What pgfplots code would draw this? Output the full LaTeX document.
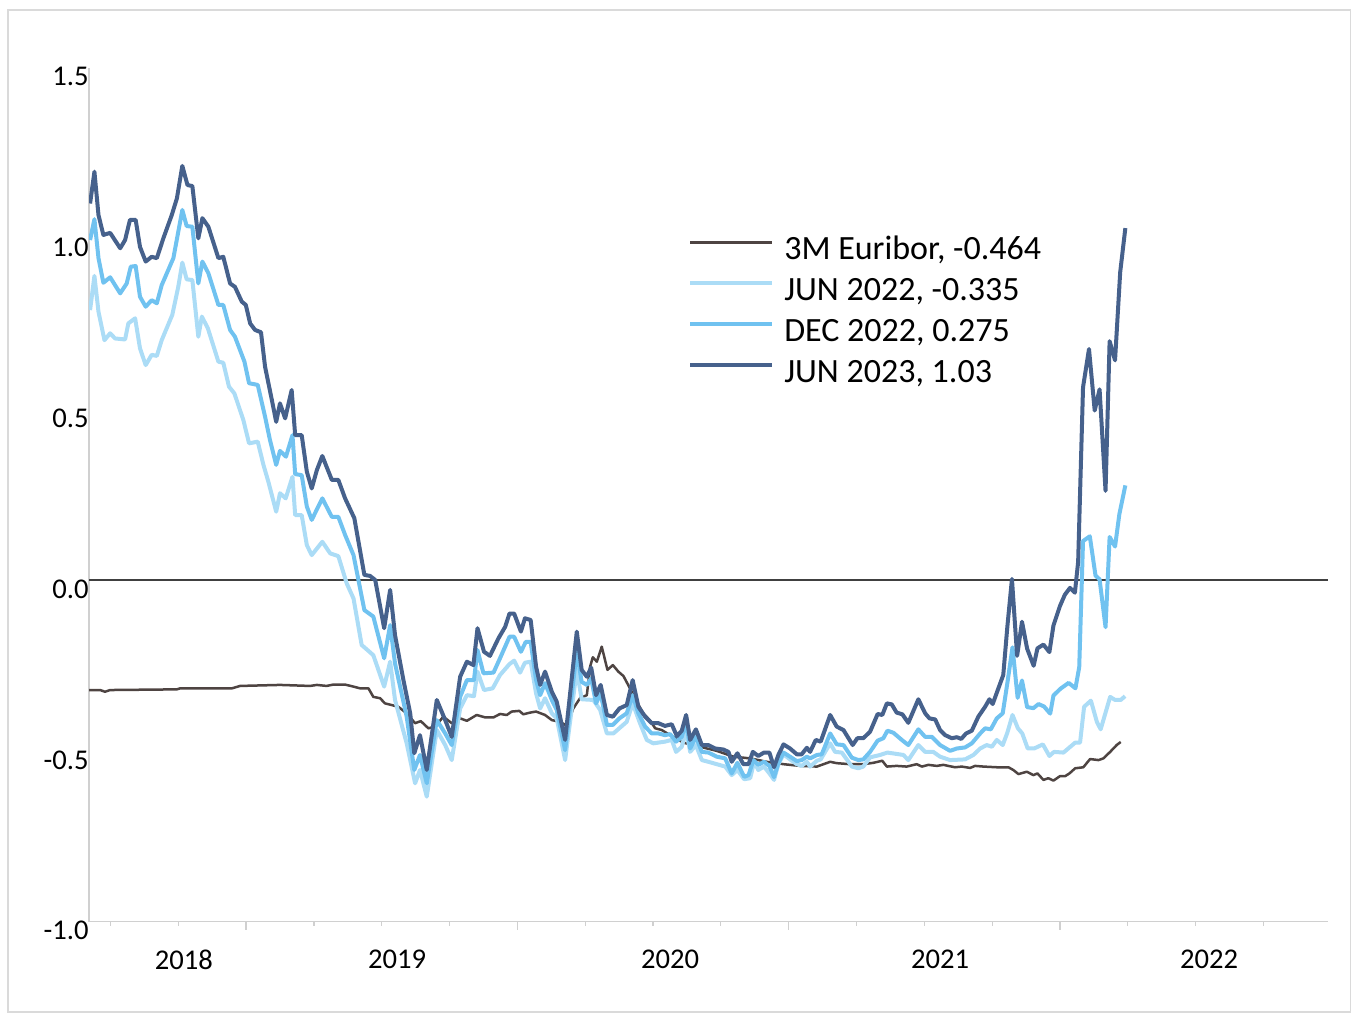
\documentclass[border=0pt]{standalone}
\usepackage{fontspec}
\setmainfont{Carlito}
\usepackage{pgfplots}
\pgfplotsset{compat=1.18}
\definecolor{axisgray}{HTML}{D0D0D0}
\definecolor{framegray}{HTML}{DADADA}
\definecolor{eurib}{HTML}{4E4442}
\definecolor{junA}{HTML}{ABDCF6}
\definecolor{decB}{HTML}{70C2F0}
\definecolor{junC}{HTML}{46618C}
\definecolor{zeroline}{HTML}{404040}
\begin{document}
\begin{tikzpicture}
\path[use as bounding box] (0pt,0pt) rectangle (675.5pt,507pt);
\draw[framegray, line width=0.6pt] (4pt,1pt) rectangle (675.2pt,502pt);
\begin{axis}[
  at={(44.5pt,46.15pt)}, anchor=south west,
  scale only axis, width=619.5pt, height=427.1pt,
  xmin=2018.421, xmax=2022.988, ymin=-1, ymax=1.5,
  axis x line*=bottom, axis y line*=left,
  axis line style={draw=axisgray, line width=0.75pt, -},
  tick align=outside, major tick length=4pt, minor tick length=2pt,
  tick style={draw=axisgray, line width=0.6pt},
  xtick={2019,2020,2021,2022}, xticklabels={,,,},
  minor xtick={2018.5,2018.75,2019.25,2019.5,2019.75,2020.25,2020.5,2020.75,2021.25,2021.5,2021.75,2022.25,2022.5,2022.75},
  extra x ticks={2018.771,2019.557,2020.563,2021.558,2022.550},
  extra x tick labels={2018,2019,2020,2021,2022},
  extra x tick style={major tick length=0pt, xticklabel style={anchor=center, inner sep=0pt, yshift=-19pt}},
  ytick=\empty,
  minor ytick={-0.9,-0.8,-0.7,-0.6,-0.4,-0.3,-0.2,-0.1,0.1,0.2,0.3,0.4,0.6,0.7,0.8,0.9,1.1,1.2,1.3,1.4},
  extra y ticks={-1,-0.5,0,0.5,1,1.5},
  extra y tick labels={-1.0,-0.5,0.0,0.5,1.0,1.5},
  extra y tick style={major tick length=0pt, yticklabel style={anchor=east, inner sep=0pt, yshift=-4.5pt}},
  tick label style={font=\fontsize{14.3}{17}\selectfont, text=black},
  legend style={at={(0.4785,0.8086)}, anchor=north west, draw=none, fill=none,
    font=\fontsize{17}{20}\selectfont, row sep=5.5pt, column sep=5pt,
    nodes={inner sep=0pt, text height=12pt, text depth=3pt}},
  legend cell align=left,
  legend image code/.code={\draw[#1] (0pt,4pt) -- (41pt,4pt);},
  line join=round,
]
\addplot[zeroline, line width=1pt, forget plot] coordinates {(2018.421,0) (2022.988,0)};

\addplot[eurib, line width=1.25pt] coordinates {
(2018.421,-0.322) (2018.462,-0.322) (2018.480,-0.327) (2018.499,-0.322) (2018.745,-0.320) (2018.757,-0.317) (2018.948,-0.317) (2018.978,-0.310) (2019.125,-0.307) (2019.236,-0.310) (2019.261,-0.307) (2019.297,-0.310) (2019.322,-0.306) (2019.365,-0.306) (2019.396,-0.312) (2019.420,-0.317) (2019.451,-0.317) (2019.469,-0.342) (2019.494,-0.346) (2019.512,-0.361) (2019.537,-0.366) (2019.561,-0.371) (2019.592,-0.390) (2019.623,-0.419) (2019.644,-0.413) (2019.672,-0.434) (2019.697,-0.429) (2019.727,-0.400) (2019.758,-0.419) (2019.789,-0.405) (2019.814,-0.412) (2019.850,-0.395) (2019.881,-0.402) (2019.912,-0.402) (2019.936,-0.392) (2019.961,-0.395) (2019.979,-0.385) (2020.007,-0.383) (2020.022,-0.393) (2020.047,-0.388) (2020.069,-0.385) (2020.102,-0.395) (2020.127,-0.410) (2020.157,-0.415) (2020.183,-0.427) (2020.206,-0.376) (2020.231,-0.346) (2020.256,-0.337) (2020.268,-0.254) (2020.278,-0.226) (2020.293,-0.239) (2020.311,-0.195) (2020.332,-0.263) (2020.352,-0.249) (2020.372,-0.268) (2020.391,-0.281) (2020.415,-0.317) (2020.440,-0.356) (2020.464,-0.390) (2020.489,-0.411) (2020.508,-0.434) (2020.532,-0.439) (2020.563,-0.454) (2020.612,-0.476) (2020.673,-0.488) (2020.735,-0.500) (2020.796,-0.517) (2020.858,-0.522) (2020.919,-0.532) (2020.981,-0.539) (2021.042,-0.544) (2021.104,-0.546) (2021.153,-0.532) (2021.177,-0.536) (2021.226,-0.539) (2021.275,-0.539) (2021.312,-0.535) (2021.345,-0.529) (2021.362,-0.546) (2021.398,-0.544) (2021.435,-0.546) (2021.472,-0.539) (2021.491,-0.546) (2021.515,-0.541) (2021.546,-0.544) (2021.570,-0.541) (2021.613,-0.548) (2021.638,-0.546) (2021.669,-0.550) (2021.687,-0.544) (2021.718,-0.546) (2021.767,-0.548) (2021.810,-0.548) (2021.828,-0.556) (2021.847,-0.568) (2021.878,-0.561) (2021.902,-0.571) (2021.917,-0.566) (2021.939,-0.585) (2021.957,-0.580) (2021.976,-0.587) (2022.000,-0.574) (2022.019,-0.574) (2022.035,-0.566) (2022.056,-0.551) (2022.086,-0.548) (2022.111,-0.524) (2022.142,-0.527) (2022.160,-0.522) (2022.185,-0.503) (2022.209,-0.483) (2022.224,-0.474)
};
\addlegendentry{3M Euribor, -0.464}

\addplot[junA, line width=2pt] coordinates {
(2018.425,0.790) (2018.441,0.890) (2018.456,0.785) (2018.478,0.702) (2018.499,0.722) (2018.517,0.707) (2018.554,0.704) (2018.566,0.751) (2018.591,0.766) (2018.609,0.678) (2018.630,0.629) (2018.652,0.659) (2018.671,0.656) (2018.689,0.702) (2018.728,0.776) (2018.750,0.858) (2018.765,0.929) (2018.781,0.880) (2018.802,0.878) (2018.824,0.712) (2018.837,0.771) (2018.859,0.737) (2018.898,0.639) (2018.916,0.636) (2018.937,0.566) (2018.957,0.546) (2018.990,0.468) (2019.011,0.400) (2019.043,0.405) (2019.064,0.337) (2019.082,0.288) (2019.111,0.200) (2019.125,0.254) (2019.146,0.239) (2019.171,0.302) (2019.181,0.190) (2019.205,0.190) (2019.224,0.102) (2019.242,0.073) (2019.281,0.112) (2019.310,0.078) (2019.340,0.070) (2019.371,-0.010) (2019.396,-0.054) (2019.426,-0.190) (2019.469,-0.220) (2019.509,-0.312) (2019.531,-0.239) (2019.549,-0.351) (2019.592,-0.478) (2019.623,-0.595) (2019.641,-0.556) (2019.666,-0.634) (2019.703,-0.439) (2019.734,-0.483) (2019.758,-0.527) (2019.789,-0.376) (2019.814,-0.337) (2019.840,-0.340) (2019.853,-0.268) (2019.877,-0.322) (2019.909,-0.317) (2019.936,-0.278) (2019.971,-0.246) (2019.988,-0.236) (2020.010,-0.271) (2020.028,-0.242) (2020.049,-0.239) (2020.069,-0.332) (2020.084,-0.376) (2020.102,-0.346) (2020.127,-0.390) (2020.145,-0.405) (2020.176,-0.527) (2020.219,-0.263) (2020.237,-0.349) (2020.280,-0.351) (2020.305,-0.380) (2020.330,-0.449) (2020.354,-0.449) (2020.403,-0.415) (2020.425,-0.361) (2020.452,-0.419) (2020.477,-0.468) (2020.501,-0.478) (2020.544,-0.473) (2020.569,-0.468) (2020.585,-0.503) (2020.606,-0.488) (2020.622,-0.439) (2020.637,-0.503) (2020.658,-0.483) (2020.680,-0.527) (2020.704,-0.532) (2020.735,-0.539) (2020.766,-0.546) (2020.790,-0.571) (2020.811,-0.556) (2020.836,-0.583) (2020.858,-0.580) (2020.873,-0.532) (2020.888,-0.556) (2020.909,-0.546) (2020.929,-0.566) (2020.946,-0.585) (2020.962,-0.539) (2020.981,-0.510) (2021.005,-0.525) (2021.030,-0.539) (2021.048,-0.544) (2021.067,-0.532) (2021.079,-0.546) (2021.104,-0.529) (2021.118,-0.525) (2021.153,-0.478) (2021.171,-0.503) (2021.196,-0.505) (2021.233,-0.546) (2021.257,-0.551) (2021.275,-0.546) (2021.300,-0.519) (2021.337,-0.512) (2021.364,-0.505) (2021.398,-0.509) (2021.423,-0.512) (2021.441,-0.527) (2021.478,-0.483) (2021.503,-0.503) (2021.533,-0.503) (2021.558,-0.517) (2021.595,-0.527) (2021.650,-0.525) (2021.681,-0.512) (2021.706,-0.493) (2021.730,-0.483) (2021.749,-0.488) (2021.767,-0.468) (2021.789,-0.483) (2021.806,-0.447) (2021.825,-0.395) (2021.845,-0.434) (2021.861,-0.449) (2021.881,-0.493) (2021.905,-0.493) (2021.937,-0.481) (2021.961,-0.515) (2021.978,-0.503) (2022.013,-0.505) (2022.035,-0.490) (2022.056,-0.476) (2022.074,-0.476) (2022.089,-0.371) (2022.114,-0.353) (2022.136,-0.415) (2022.150,-0.437) (2022.185,-0.342) (2022.203,-0.351) (2022.224,-0.351) (2022.240,-0.340)
};
\addlegendentry{JUN 2022, -0.335}

\addplot[decB, line width=2pt] coordinates {
(2018.425,0.995) (2018.441,1.056) (2018.456,0.942) (2018.474,0.870) (2018.499,0.886) (2018.536,0.839) (2018.560,0.868) (2018.575,0.917) (2018.593,0.919) (2018.609,0.829) (2018.630,0.800) (2018.652,0.819) (2018.671,0.810) (2018.689,0.863) (2018.732,0.942) (2018.765,1.083) (2018.781,1.036) (2018.802,1.034) (2018.824,0.868) (2018.839,0.932) (2018.861,0.898) (2018.898,0.805) (2018.916,0.805) (2018.941,0.732) (2018.959,0.712) (2018.994,0.639) (2019.011,0.576) (2019.043,0.571) (2019.070,0.478) (2019.088,0.410) (2019.111,0.337) (2019.125,0.378) (2019.147,0.361) (2019.171,0.424) (2019.181,0.310) (2019.205,0.307) (2019.224,0.215) (2019.242,0.176) (2019.281,0.239) (2019.316,0.185) (2019.340,0.185) (2019.365,0.132) (2019.396,0.073) (2019.436,-0.088) (2019.469,-0.107) (2019.509,-0.229) (2019.531,-0.132) (2019.549,-0.244) (2019.592,-0.400) (2019.620,-0.556) (2019.641,-0.512) (2019.666,-0.595) (2019.703,-0.410) (2019.734,-0.449) (2019.758,-0.483) (2019.789,-0.342) (2019.814,-0.293) (2019.840,-0.293) (2019.853,-0.205) (2019.875,-0.273) (2019.912,-0.271) (2019.936,-0.229) (2019.971,-0.166) (2019.988,-0.166) (2020.013,-0.210) (2020.031,-0.181) (2020.049,-0.181) (2020.069,-0.293) (2020.084,-0.337) (2020.102,-0.302) (2020.127,-0.351) (2020.145,-0.380) (2020.176,-0.498) (2020.219,-0.210) (2020.237,-0.298) (2020.256,-0.307) (2020.272,-0.288) (2020.290,-0.361) (2020.307,-0.332) (2020.330,-0.424) (2020.352,-0.424) (2020.376,-0.405) (2020.403,-0.390) (2020.425,-0.337) (2020.446,-0.390) (2020.471,-0.429) (2020.495,-0.449) (2020.520,-0.449) (2020.544,-0.454) (2020.563,-0.451) (2020.585,-0.473) (2020.606,-0.459) (2020.622,-0.415) (2020.637,-0.493) (2020.658,-0.459) (2020.680,-0.503) (2020.704,-0.505) (2020.735,-0.517) (2020.766,-0.522) (2020.790,-0.566) (2020.811,-0.535) (2020.836,-0.576) (2020.852,-0.571) (2020.870,-0.527) (2020.888,-0.541) (2020.909,-0.532) (2020.929,-0.544) (2020.946,-0.577) (2020.962,-0.536) (2020.981,-0.505) (2021.005,-0.517) (2021.030,-0.530) (2021.048,-0.527) (2021.067,-0.517) (2021.079,-0.522) (2021.104,-0.512) (2021.122,-0.510) (2021.153,-0.449) (2021.177,-0.481) (2021.202,-0.483) (2021.233,-0.520) (2021.257,-0.527) (2021.275,-0.525) (2021.300,-0.503) (2021.328,-0.470) (2021.349,-0.463) (2021.364,-0.441) (2021.386,-0.447) (2021.417,-0.468) (2021.441,-0.483) (2021.478,-0.437) (2021.503,-0.459) (2021.528,-0.459) (2021.558,-0.483) (2021.595,-0.500) (2021.620,-0.493) (2021.650,-0.490) (2021.675,-0.478) (2021.706,-0.449) (2021.724,-0.434) (2021.745,-0.437) (2021.767,-0.405) (2021.789,-0.390) (2021.806,-0.302) (2021.825,-0.197) (2021.844,-0.345) (2021.860,-0.294) (2021.879,-0.372) (2021.902,-0.375) (2021.921,-0.363) (2021.941,-0.370) (2021.964,-0.391) (2021.976,-0.338) (2022.002,-0.318) (2022.032,-0.301) (2022.057,-0.317) (2022.071,-0.255) (2022.085,0.114) (2022.110,0.128) (2022.131,0.013) (2022.146,0.002) (2022.168,-0.138) (2022.183,0.126) (2022.203,0.098) (2022.219,0.193) (2022.241,0.277)
};
\addlegendentry{DEC 2022, 0.275}

\addplot[junC, line width=2pt] coordinates {
(2018.425,1.102) (2018.441,1.195) (2018.456,1.068) (2018.474,1.010) (2018.499,1.016) (2018.536,0.971) (2018.554,0.995) (2018.572,1.054) (2018.593,1.054) (2018.609,0.975) (2018.630,0.932) (2018.652,0.946) (2018.671,0.942) (2018.695,1.000) (2018.726,1.068) (2018.745,1.117) (2018.765,1.212) (2018.784,1.156) (2018.802,1.153) (2018.824,1.000) (2018.839,1.059) (2018.861,1.034) (2018.898,0.942) (2018.916,0.946) (2018.941,0.868) (2018.959,0.858) (2018.984,0.815) (2018.999,0.805) (2019.015,0.751) (2019.033,0.732) (2019.055,0.725) (2019.070,0.624) (2019.095,0.527) (2019.111,0.463) (2019.125,0.517) (2019.144,0.473) (2019.168,0.556) (2019.181,0.424) (2019.205,0.424) (2019.224,0.317) (2019.242,0.268) (2019.261,0.322) (2019.281,0.363) (2019.316,0.293) (2019.340,0.293) (2019.365,0.239) (2019.399,0.181) (2019.436,0.015) (2019.457,0.012) (2019.476,0.000) (2019.509,-0.141) (2019.531,-0.029) (2019.549,-0.161) (2019.580,-0.293) (2019.605,-0.390) (2019.620,-0.507) (2019.641,-0.454) (2019.666,-0.556) (2019.703,-0.351) (2019.734,-0.410) (2019.758,-0.459) (2019.789,-0.283) (2019.814,-0.239) (2019.838,-0.249) (2019.853,-0.141) (2019.877,-0.210) (2019.899,-0.222) (2019.930,-0.171) (2019.955,-0.137) (2019.971,-0.098) (2019.988,-0.098) (2020.013,-0.151) (2020.028,-0.112) (2020.049,-0.117) (2020.069,-0.254) (2020.084,-0.307) (2020.102,-0.268) (2020.127,-0.327) (2020.145,-0.356) (2020.176,-0.468) (2020.219,-0.151) (2020.237,-0.263) (2020.256,-0.283) (2020.272,-0.256) (2020.290,-0.337) (2020.307,-0.307) (2020.330,-0.395) (2020.352,-0.400) (2020.376,-0.376) (2020.403,-0.366) (2020.425,-0.293) (2020.446,-0.371) (2020.471,-0.400) (2020.495,-0.419) (2020.520,-0.419) (2020.544,-0.427) (2020.569,-0.422) (2020.588,-0.457) (2020.606,-0.441) (2020.622,-0.395) (2020.637,-0.468) (2020.658,-0.437) (2020.680,-0.483) (2020.704,-0.483) (2020.729,-0.493) (2020.759,-0.496) (2020.778,-0.503) (2020.790,-0.532) (2020.811,-0.507) (2020.833,-0.539) (2020.852,-0.539) (2020.868,-0.503) (2020.888,-0.515) (2020.909,-0.505) (2020.929,-0.505) (2020.946,-0.548) (2020.962,-0.512) (2020.981,-0.481) (2021.005,-0.493) (2021.030,-0.510) (2021.048,-0.510) (2021.067,-0.491) (2021.079,-0.503) (2021.100,-0.468) (2021.118,-0.473) (2021.153,-0.395) (2021.177,-0.429) (2021.202,-0.439) (2021.236,-0.483) (2021.253,-0.463) (2021.275,-0.463) (2021.300,-0.444) (2021.328,-0.392) (2021.345,-0.395) (2021.362,-0.361) (2021.380,-0.364) (2021.398,-0.388) (2021.419,-0.393) (2021.441,-0.418) (2021.478,-0.349) (2021.503,-0.390) (2021.519,-0.405) (2021.540,-0.408) (2021.558,-0.439) (2021.577,-0.454) (2021.601,-0.463) (2021.620,-0.460) (2021.636,-0.465) (2021.654,-0.449) (2021.675,-0.441) (2021.699,-0.400) (2021.724,-0.371) (2021.740,-0.349) (2021.752,-0.363) (2021.773,-0.317) (2021.791,-0.278) (2021.806,-0.137) (2021.823,0.003) (2021.842,-0.222) (2021.860,-0.122) (2021.879,-0.201) (2021.903,-0.251) (2021.917,-0.200) (2021.939,-0.189) (2021.961,-0.211) (2021.976,-0.133) (2022.000,-0.076) (2022.018,-0.043) (2022.037,-0.023) (2022.055,-0.037) (2022.067,0.053) (2022.085,0.564) (2022.107,0.676) (2022.128,0.496) (2022.146,0.558) (2022.168,0.261) (2022.183,0.699) (2022.203,0.643) (2022.222,0.901) (2022.241,1.030)
};
\addlegendentry{JUN 2023, 1.03}
\end{axis}
\end{tikzpicture}
\end{document}
